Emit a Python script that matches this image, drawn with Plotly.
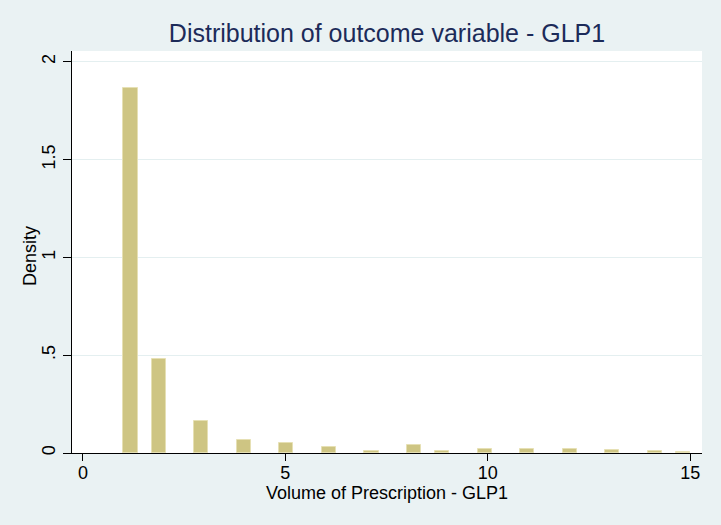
import math
import plotly.graph_objects as go

# Data (Stata-style density histogram, 40 bins of width 0.35 from 1 to 15)
volumes = [1, 2, 3, 4, 5, 6, 7, 8, 9, 10, 11, 12, 13, 14, 15]
density = [1.868, 0.483, 0.162, 0.064, 0.051, 0.033, 0.010, 0.039, 0.012,
           0.019, 0.022, 0.019, 0.014, 0.009, 0.004]
bin_start = 1.0
bin_width = 0.35
n_bins = 40

y_ticks = [0, 0.5, 1, 1.5, 2]
y_tick_text = ["0", ".5", "1", "1.5", "2"]
x_ticks = [0, 5, 10, 15]

# Assign each value to its histogram bin (Stata binning) and use bin centres
centers = []
for v in volumes:
    k = min(int(math.floor((v - bin_start) / bin_width + 1e-9)), n_bins - 1)
    centers.append(bin_start + (k + 0.5) * bin_width)

FONT = "Liberation Sans, Arial, sans-serif"

fig = go.Figure(
    go.Bar(
        x=centers,
        y=density,
        width=bin_width,
        marker=dict(color="#cec583", line=dict(color="#e6e0b4", width=1)),
        hoverinfo="x+y",
    )
)

fig.update_layout(
    width=721,
    height=525,
    margin=dict(l=72, r=19, t=51, b=72),
    paper_bgcolor="#eaf2f3",
    plot_bgcolor="#ffffff",
    showlegend=False,
    bargap=0,
    font=dict(family=FONT, color="#000000"),
    title=dict(
        text="Distribution of outcome variable - GLP1",
        x=(72 + 702) / 2 / 721,
        xanchor="center",
        y=1 - 33 / 525,
        yanchor="middle",
        font=dict(size=25, color="#1c2b59", family=FONT),
    ),
    annotations=[
        dict(
            text="Volume of Prescription - GLP1",
            xref="paper", yref="paper",
            x=0.5, y=1 - (493 - 51) / (525 - 51 - 72),
            xanchor="center", yanchor="middle",
            showarrow=False, font=dict(size=18),
        ),
        dict(
            text="Density",
            xref="paper", yref="paper",
            x=-(72 - 30) / (721 - 72 - 19), y=1 - (256 - 51) / (525 - 51 - 72),
            xanchor="center", yanchor="middle", textangle=-90,
            showarrow=False, font=dict(size=18),
        ),
    ],
)

fig.update_xaxes(
    range=[-0.27, 15.29],
    tickvals=x_ticks,
    ticktext=[str(t) for t in x_ticks],
    ticks="outside",
    ticklen=7,
    tickwidth=1,
    tickcolor="#000000",
    showline=True,
    linecolor="#000000",
    linewidth=1,
    showgrid=False,
    zeroline=False,
    tickfont=dict(size=18),
    ticklabelstandoff=-4,
)

fig.update_yaxes(
    range=[0, 2.055],
    tickvals=y_ticks,
    ticktext=y_tick_text,
    tickangle=-90,
    ticks="outside",
    ticklen=8,
    tickwidth=1,
    tickcolor="#000000",
    showline=True,
    linecolor="#000000",
    linewidth=1,
    showgrid=True,
    gridcolor="#e4eff0",
    gridwidth=1,
    zeroline=False,
    tickfont=dict(size=18),
    ticklabelstandoff=1,
)

fig.write_html("out.html")
